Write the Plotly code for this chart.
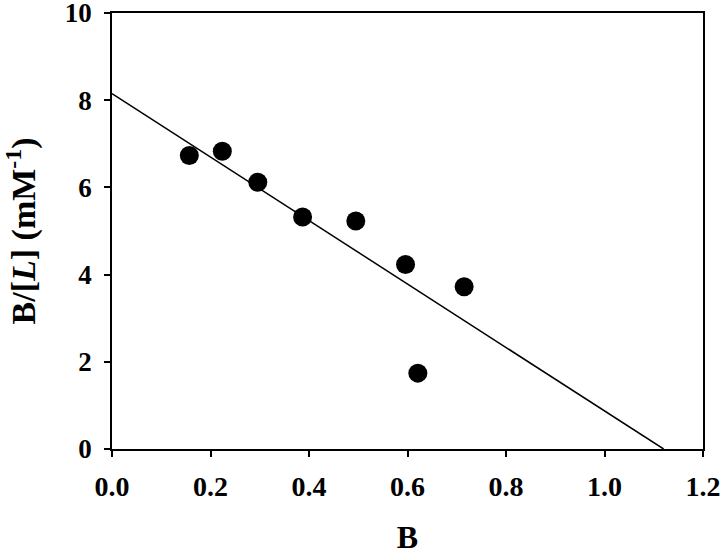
import plotly.graph_objects as go

b_vals = [0.157, 0.224, 0.296, 0.387, 0.495, 0.596, 0.621, 0.715]
ratio_vals = [6.73, 6.83, 6.12, 5.32, 5.23, 4.23, 1.74, 3.72]
fit_x = [0.0, 1.12]
fit_y = [8.15, 0.0]

x_ticks = [0.0, 0.2, 0.4, 0.6, 0.8, 1.0, 1.2]
y_ticks = [0, 2, 4, 6, 8, 10]

fig = go.Figure()
fig.add_trace(go.Scatter(x=fit_x, y=fit_y, mode="lines",
                         line=dict(color="black", width=1.5), showlegend=False))
fig.add_trace(go.Scatter(x=b_vals, y=ratio_vals, mode="markers",
                         marker=dict(color="black", size=19), showlegend=False))

font = "Liberation Serif"
fig.update_layout(
    width=720, height=555,
    margin=dict(l=112, r=17, t=13, b=106),
    plot_bgcolor="white", paper_bgcolor="white",
    font=dict(family=font, color="black"),
    xaxis=dict(range=[0, 1.2], tickvals=x_ticks, ticktext=[f"{v:.1f}" for v in x_ticks],
               automargin=False, ticklabeloverflow="allow",
               showgrid=False, zeroline=False, showline=True, linecolor="black", linewidth=1.5,
               mirror=True, ticks="outside", ticklen=6, tickwidth=1.5, tickcolor="black",
               tickfont=dict(family=font, size=28, color="black", weight="bold"),
               ticklabelstandoff=6,
               title=dict(text="<b>B</b>", font=dict(family=font, size=32, color="black"), standoff=24)),
    yaxis=dict(range=[0, 10], tickvals=y_ticks,
               automargin=False, ticklabeloverflow="allow",
               showgrid=False, zeroline=False, showline=True, linecolor="black", linewidth=1.5,
               mirror=True, ticks="outside", ticklen=6, tickwidth=1.5, tickcolor="black",
               tickfont=dict(family=font, size=27, color="black", weight="bold"),
               ticklabelstandoff=7,
               title=dict(text="<b>B/[<i>L</i>] (mM<sup>-1</sup>)</b>",
                          font=dict(family=font, size=34, color="black"), standoff=29)),
)
fig.write_html("out.html", config={"displayModeBar": False},
               post_script="document.body.style.margin='0';")
